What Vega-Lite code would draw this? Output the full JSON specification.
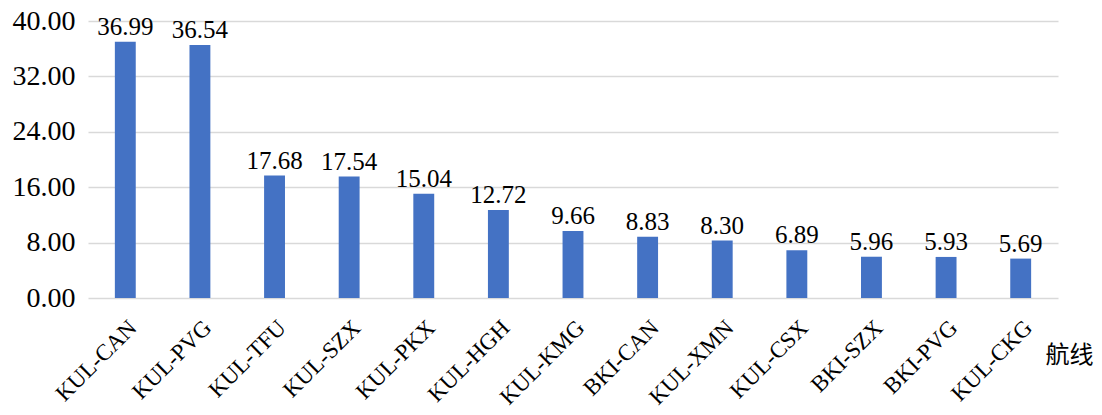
{
  "$schema": "https://vega.github.io/schema/vega-lite/v6.json",
  "width": 970,
  "height": 277,
  "autosize": "none",
  "padding": {"left": 88, "top": 21, "right": 44, "bottom": 117},
  "background": "white",
  "config": {"view": {"stroke": null}, "font": "Liberation Serif"},
  "data": {"values": [
    {"route": "KUL-CAN", "value": 36.99},
    {"route": "KUL-PVG", "value": 36.54},
    {"route": "KUL-TFU", "value": 17.68},
    {"route": "KUL-SZX", "value": 17.54},
    {"route": "KUL-PKX", "value": 15.04},
    {"route": "KUL-HGH", "value": 12.72},
    {"route": "KUL-KMG", "value": 9.66},
    {"route": "BKI-CAN", "value": 8.83},
    {"route": "KUL-XMN", "value": 8.30},
    {"route": "KUL-CSX", "value": 6.89},
    {"route": "BKI-SZX", "value": 5.96},
    {"route": "BKI-PVG", "value": 5.93},
    {"route": "KUL-CKG", "value": 5.69}
  ]},
  "encoding": {
    "x": {"field": "route", "type": "nominal", "sort": null,
      "scale": {"paddingInner": 0.72, "paddingOuter": 0.36},
      "axis": {"title": "航线", "titleFont": "Noto Sans CJK SC", "titleFontSize": 24, "titleFontWeight": "normal", "titleColor": "#000",
        "titleX": 981, "titleY": 57, "titleAlign": "center", "titleBaseline": "middle",
        "labelAngle": -45, "labelFont": "Liberation Serif", "labelFontSize": 23, "labelColor": "#000",
        "ticks": false, "domain": false, "grid": false, "labelPadding": 18}},
    "y": {"field": "value", "type": "quantitative",
      "scale": {"domain": [0, 40]},
      "axis": {"title": null, "values": [0, 8, 16, 24, 32, 40], "format": ".2f",
        "labelFont": "Liberation Serif", "labelFontSize": 28, "labelColor": "#000",
        "ticks": false, "domain": false, "grid": true, "gridColor": "#d9d9d9", "gridWidth": 1.3, "labelPadding": 13}}
  },
  "layer": [
    {"mark": {"type": "bar", "color": "#4472C4"}},
    {"mark": {"type": "text", "baseline": "alphabetic", "dy": -7, "fontSize": 25, "font": "Liberation Serif", "color": "#000"},
      "encoding": {"text": {"field": "value", "type": "quantitative", "format": ".2f"}}}
  ]
}
